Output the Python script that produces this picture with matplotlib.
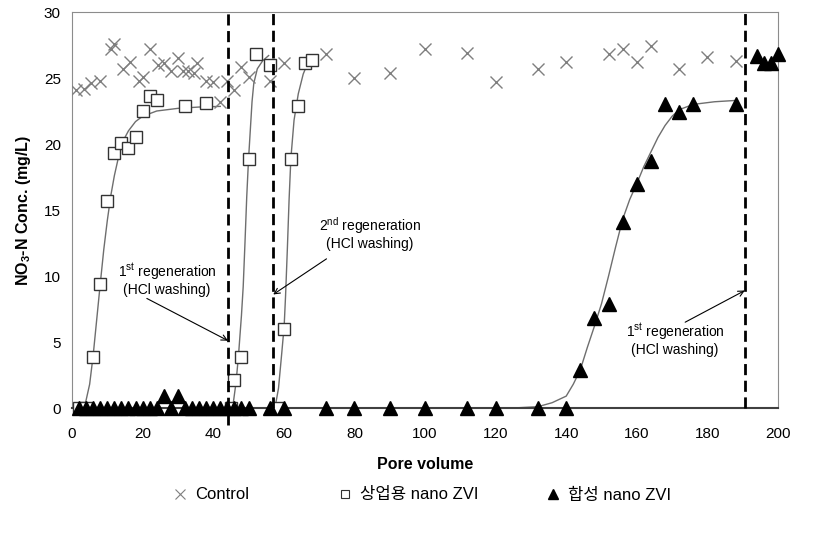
import matplotlib
matplotlib.use("Agg")
import matplotlib.pyplot as plt
from matplotlib.lines import Line2D

plt.rcParams['font.family'] = ['Liberation Sans', 'Noto Sans CJK KR', 'DejaVu Sans']
plt.rcParams['mathtext.fontset'] = 'custom'
plt.rcParams['mathtext.rm'] = 'Liberation Sans'
plt.rcParams['mathtext.bf'] = 'Liberation Sans:bold'

# measured points
control_x = [1, 3.5, 5.5, 8, 11, 12, 14.5, 16.5, 19, 20, 22, 24.5, 26, 28, 30,
             31.5, 33, 34.5, 35.5, 38, 40, 42, 44, 46, 48, 50, 56, 60, 72, 80,
             90, 100, 112, 120, 132, 140, 152, 156, 160, 164, 172, 180, 188]
control_y = [24.1, 24.2, 24.6, 24.8, 27.2, 27.6, 25.7, 26.2, 24.8, 25.1, 27.2,
             26.0, 26.1, 25.5, 26.5, 25.5, 25.5, 25.4, 26.1, 24.8, 24.7, 23.2,
             24.8, 24.1, 25.8, 25.1, 24.8, 26.1, 26.8, 25.0, 25.4, 27.2, 26.9,
             24.7, 25.7, 26.2, 26.8, 27.2, 26.2, 27.4, 25.7, 26.6, 26.3]

comm_x = [2, 4, 6, 8, 10, 12, 14, 16, 18, 20, 22, 24, 32, 38,
          45, 46, 48, 50, 52, 56, 58, 60, 62, 64, 66, 68]
comm_y = [0, 0, 3.9, 9.4, 15.7, 19.3, 20.1, 19.7, 20.5, 22.5, 23.6, 23.3, 22.9, 23.1,
          0, 2.1, 3.9, 18.9, 26.8, 26.0, 0, 6.0, 18.9, 22.9, 26.1, 26.4]

synth_x = [2, 4, 6, 8, 10, 12, 14, 16, 18, 20, 22, 24, 26, 28, 30, 32, 34, 36,
           38, 40, 42, 44, 46, 48, 50, 56, 60, 72, 80, 90, 100, 112, 120, 132,
           140, 144, 148, 152, 156, 160, 164, 168, 172, 176, 188, 194, 196, 198, 200]
synth_y = [0, 0, 0, 0, 0, 0, 0, 0, 0, 0, 0, 0, 0.9, 0, 0.9, 0, 0, 0,
           0, 0, 0, 0, 0, 0, 0, 0, 0, 0, 0, 0, 0, 0, 0, 0,
           0, 2.9, 6.8, 7.9, 14.1, 17.0, 18.7, 23.0, 22.4, 23.0, 23.0, 26.7, 26.1, 26.1, 26.8]

# fitted breakthrough curves
fit1_x = [3.5, 5, 6, 7, 8, 9, 10, 11, 12, 13, 14, 15, 16, 18, 20, 24, 30, 36, 42]
fit1_y = [0, 1.8, 4.0, 6.7, 9.4, 12.0, 14.2, 16.1, 17.6, 18.8, 19.8, 20.5, 21.0,
          21.7, 22.1, 22.5, 22.7, 22.8, 22.85]
fit2_x = [45.5, 46.5, 47.2, 48, 48.5, 49, 49.5, 50, 50.5, 51, 51.5, 52.5, 54, 55.7]
fit2_y = [0, 2.0, 4.1, 7.0, 9.2, 12.5, 16.0, 18.8, 21.0, 23.2, 24.6, 25.7, 26.3, 26.7]
fit3_x = [57.5, 58.5, 59.4, 60.1, 60.5, 61, 61.5, 62, 62.9, 64.1, 65.5, 67.5]
fit3_y = [0, 1.5, 4.1, 6.2, 8.5, 12.0, 15.8, 18.9, 21.8, 23.8, 25.3, 26.6]
fit4_x = [125, 132, 136, 140, 142, 144, 146, 148, 150, 152, 154, 156, 158, 160,
          162, 164, 166, 168, 170, 172, 176, 182, 188]
fit4_y = [0, 0.1, 0.4, 0.9, 1.8, 2.9, 4.6, 6.2, 7.9, 10.0, 12.2, 14.3, 15.8, 17.0,
          18.3, 19.4, 20.5, 21.4, 22.1, 22.6, 23.0, 23.2, 23.3]

regen_x = [44.2, 57.0, 190.6]
regen_bottom = [-1.3, 0, 0]

fig = plt.figure(figsize=(8.4, 5.33), dpi=100)
ax = fig.add_axes([72/840, 1-408/533, 706/840, 396/533])

for fx, fy in [(fit1_x, fit1_y), (fit2_x, fit2_y), (fit3_x, fit3_y), (fit4_x, fit4_y)]:
    ax.plot(fx, fy, color='#6e6e6e', lw=1, zorder=2)

ax.plot(control_x, control_y, ls='none', marker='x', ms=9, mew=1,
        color='#7f7f7f', zorder=3)
ax.plot(comm_x, comm_y, ls='none', marker='s', ms=9, mew=1, mfc='white',
        mec='#333333', zorder=4, clip_on=False)
ax.plot(synth_x, synth_y, ls='none', marker='^', ms=10, color='black',
        zorder=5, clip_on=False)

for rx, rb in zip(regen_x, regen_bottom):
    ax.plot([rx, rx], [rb, 30], color='black', lw=2, ls=(0, (4, 2)),
            clip_on=False, zorder=6)

# annotations
arrow = dict(arrowstyle='->', color='black', lw=0.8, shrinkA=0, shrinkB=0)
ax.annotate('', xy=(44.2, 5.1), xytext=(21.2, 8.3), arrowprops=arrow)
ax.annotate('', xy=(57.0, 8.6), xytext=(72.1, 11.3), arrowprops=arrow)
ax.annotate('', xy=(190.6, 8.9), xytext=(173.7, 6.5), arrowprops=arrow)

ax.text(26.9, 10.3, r'1$^{\mathrm{st}}$ regeneration', ha='center', va='center', fontsize=10)
ax.text(26.9, 8.95, '(HCl washing)', ha='center', va='center', fontsize=10)
ax.text(84.4, 13.8, r'2$^{\mathrm{nd}}$ regeneration', ha='center', va='center', fontsize=10)
ax.text(84.4, 12.45, '(HCl washing)', ha='center', va='center', fontsize=10)
ax.text(170.8, 5.8, r'1$^{\mathrm{st}}$ regeneration', ha='center', va='center', fontsize=10)
ax.text(170.8, 4.4, '(HCl washing)', ha='center', va='center', fontsize=10)

ax.set_xlim(0, 200)
ax.set_ylim(0, 30)
ax.set_xticks(range(0, 201, 20))
ax.set_yticks(range(0, 31, 5))
ax.tick_params(axis='x', length=0, labelsize=11, pad=14)
ax.tick_params(axis='y', length=0, labelsize=11, pad=8)
for s in ['left', 'right', 'top']:
    ax.spines[s].set_color('#8c8c8c')
ax.spines['bottom'].set_color('#404040')
ax.spines['bottom'].set_linewidth(1.5)

ax.set_xlabel('Pore volume', fontsize=11.5, fontweight='bold', labelpad=11)
ax.set_ylabel(r'NO$_\mathbf{3}$-N Conc. (mg/L)', fontsize=11.5, fontweight='bold', labelpad=8)

# legend entries placed one by one, like the original
handles = [
    Line2D([], [], ls='none', marker='x', ms=7, mew=0.8, color='#7f7f7f'),
    Line2D([], [], ls='none', marker='s', ms=6, mew=0.8, mfc='white', mec='#333333'),
    Line2D([], [], ls='none', marker='^', ms=7, color='black'),
]
labels = ['Control', '상업용 nano ZVI', '합성 nano ZVI']
legend_left = [170/840, 335/840, 543/840]
for h, lab, lx in zip(handles, labels, legend_left):
    fig.legend([h], [lab], loc='center left', bbox_to_anchor=(lx, 0.0713),
               frameon=False, fontsize=12, handletextpad=0.3, handlelength=1.2,
               borderpad=0, borderaxespad=0)

fig.savefig('out.png', dpi=100)
